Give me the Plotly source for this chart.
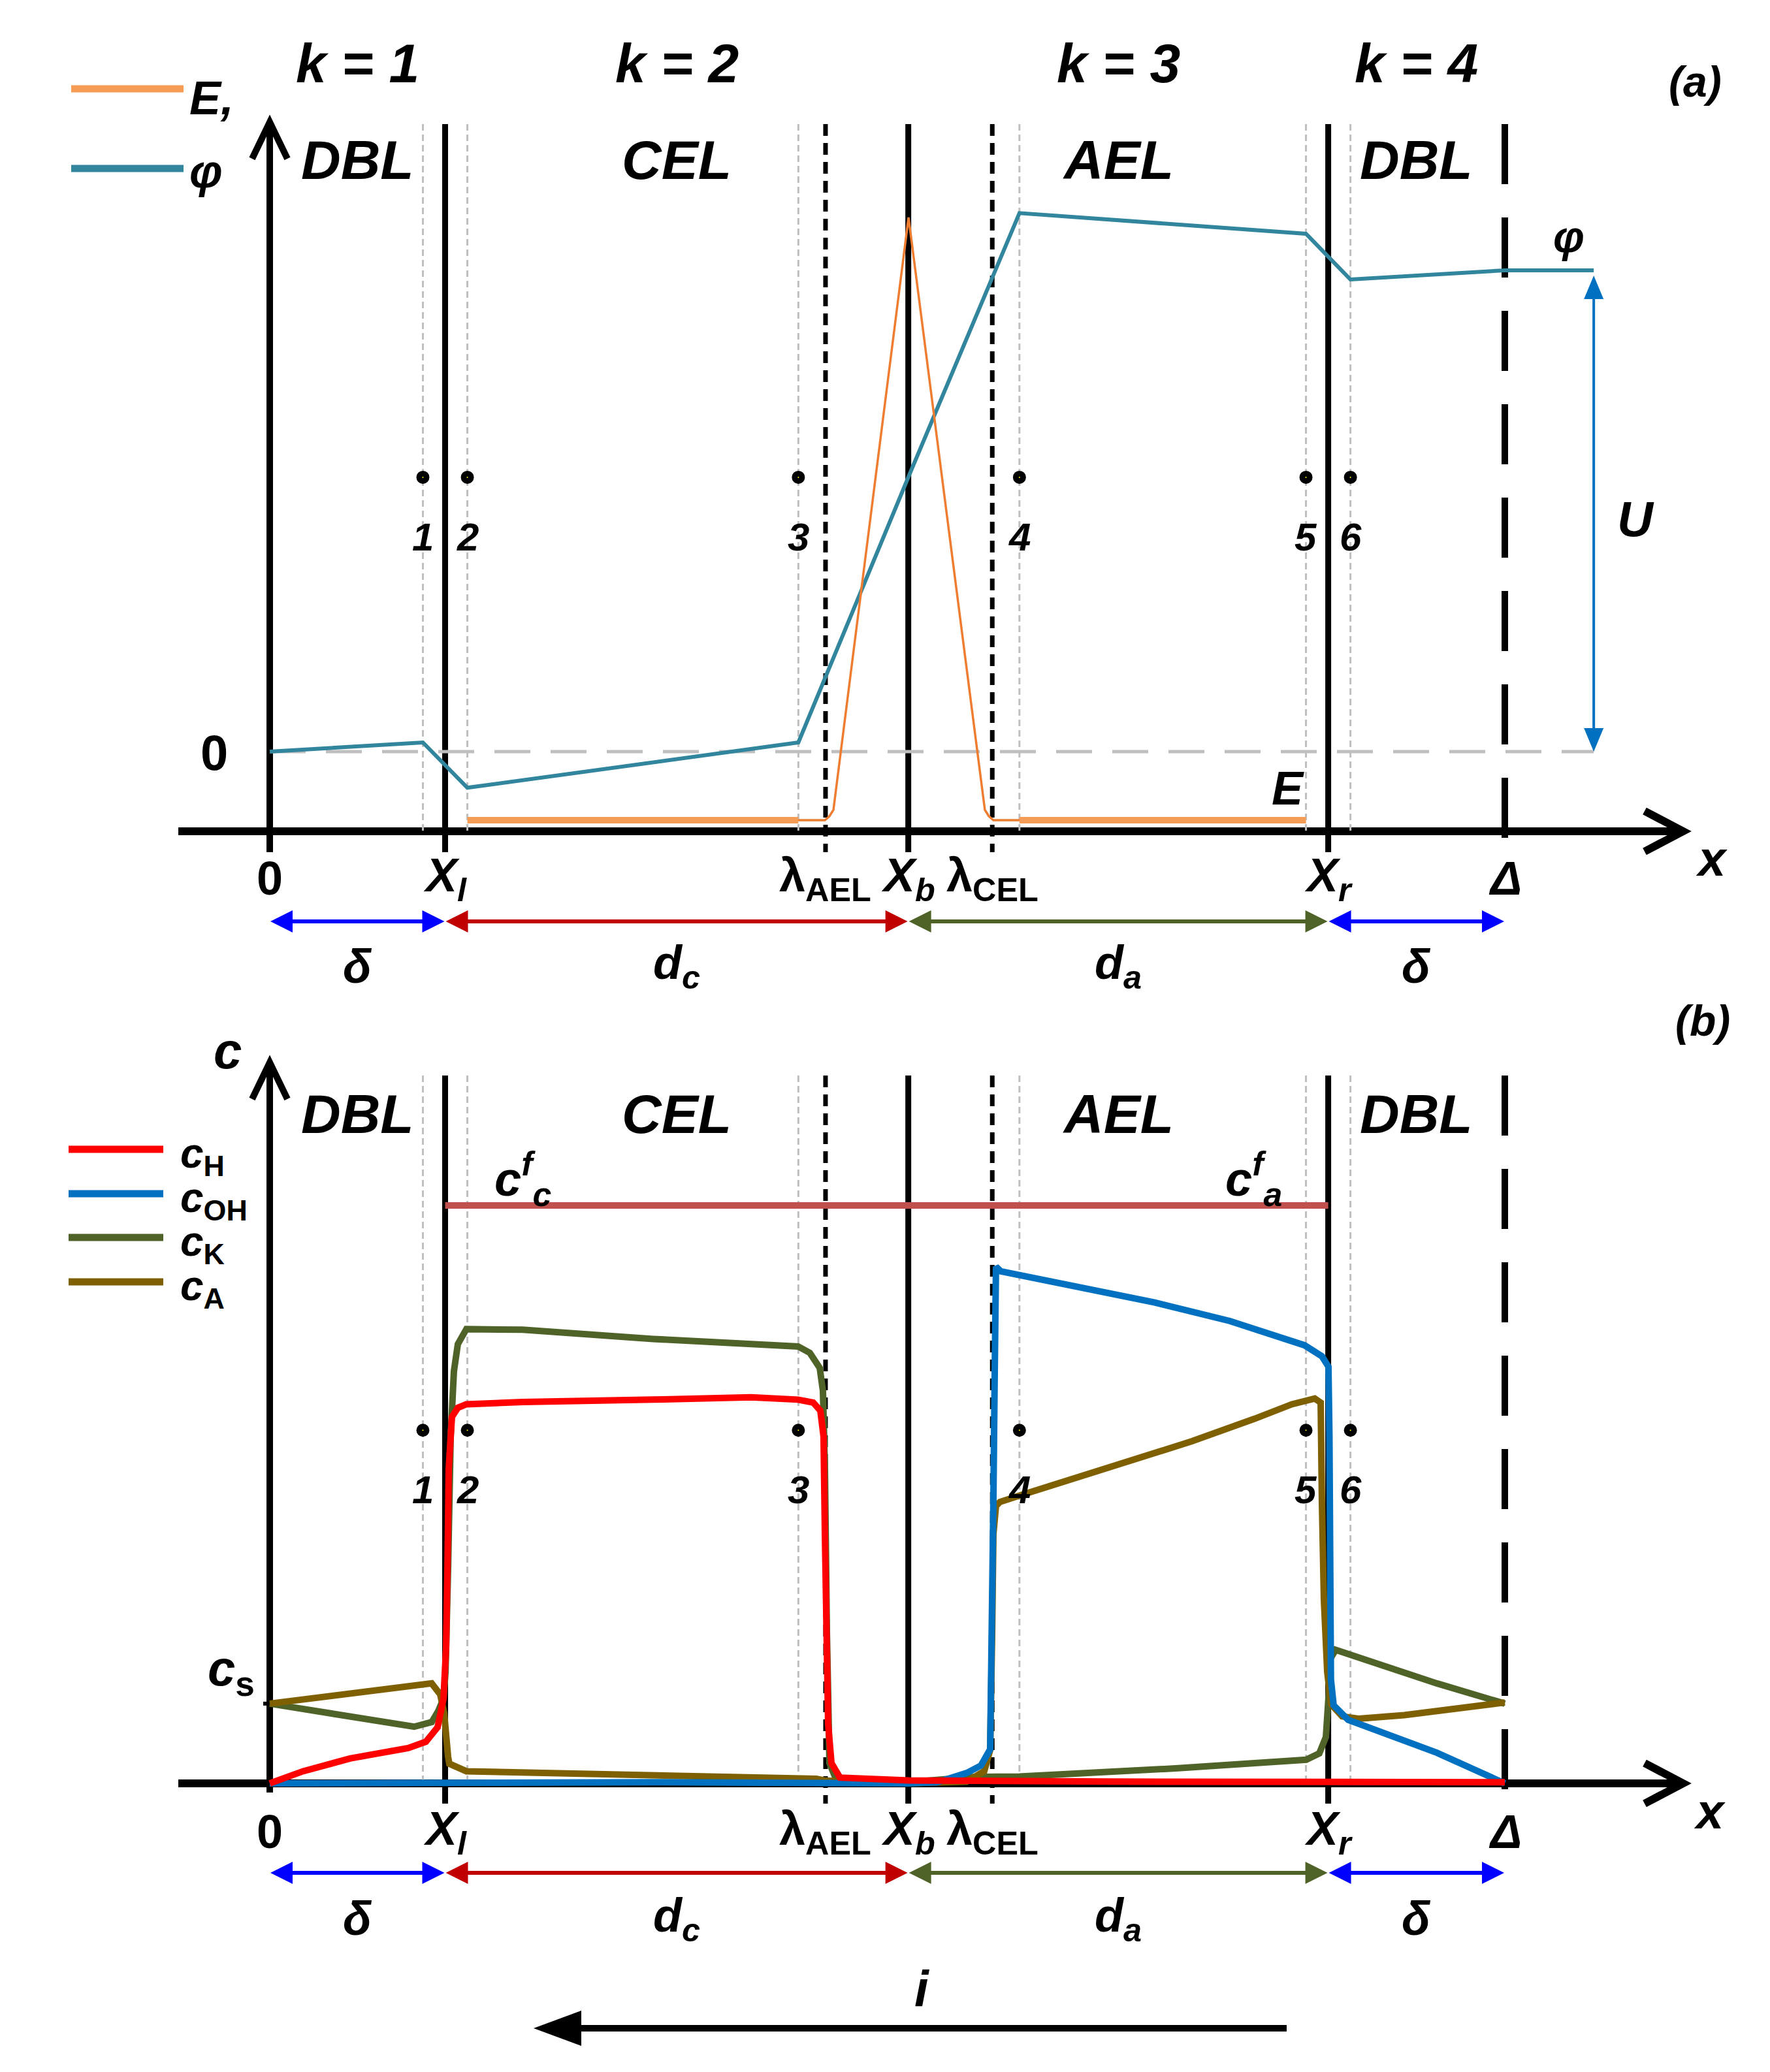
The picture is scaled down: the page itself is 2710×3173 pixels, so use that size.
import plotly.graph_objects as go

# ===================== DATA =====================
# layer boundaries along x (units: Δ = 100)
x_zero, x_l, lam_ael, x_b, lam_cel, x_r, x_delta = 0.0, 14.2, 45.0, 51.7, 58.5, 85.7, 100.0

point_x = [12.4, 16.0, 42.8, 60.7, 83.9, 87.5]
point_labels = ["1", "2", "3", "4", "5", "6"]

tick_x = [x_zero, x_l, lam_ael, x_b, lam_cel, x_r, x_delta]
tick_text = ["0", "<i>X<sub>l</sub></i>", "λ<sub>AEL</sub>", "<i>X<sub>b</sub></i>",
             "λ<sub>CEL</sub>", "<i>X<sub>r</sub></i>", "<i>Δ</i>"]

layer_bounds = [x_zero, x_l, x_b, x_r, x_delta]
layer_names = ["DBL", "CEL", "AEL", "DBL"]
layer_k = ["k = 1", "k = 2", "k = 3", "k = 4"]
dim_text = ["<i>δ</i>", "<i>d<sub>c</sub></i>", "<i>d<sub>a</sub></i>", "<i>δ</i>"]
dim_colors = ["#0000FF", "#C00000", "#4F6228", "#0000FF"]

# ---- panel (a): potential and field ----
phi_x = [0, 12.4, 16.0, 42.8, 51.7, 60.7, 83.9, 87.5, 100, 107.2]
phi_y = [0, 0.019, -0.075, 0.019, 0.57, 1.119, 1.076, 0.981, 1.0, 1.0]
E_flat_x = [16.0, 42.8, None, 60.7, 83.9]
E_flat_y = [-0.1425, -0.1425, None, -0.1425, -0.1425]
E_peak_x = [42.78, 44.95, 45.32, 45.64, 51.72, 57.90, 58.22, 58.59, 60.71]
E_peak_y = [-0.1425, -0.1425, -0.134, -0.121, 1.110, -0.121, -0.134, -0.1425, -0.1425]
U_value = 1.0

# ---- panel (b): concentrations ----
cH_x = [0, 2.70, 6.50, 11.21, 12.64, 13.59, 14.07, 14.28, 14.39, 14.49, 14.75, 15.23, 15.92,
        20.47, 31.04, 38.97, 42.78, 44.00, 44.58, 44.84, 44.95, 45.06, 45.21, 45.48, 46.17,
        51.72, 68.06, 100]
cH_y = [0, 0.021, 0.043, 0.061, 0.072, 0.097, 0.147, 0.235, 0.374, 0.544, 0.634, 0.650, 0.656,
        0.660, 0.664, 0.668, 0.664, 0.659, 0.645, 0.600, 0.431, 0.261, 0.103, 0.035, 0.010,
        0.005, 0.003, 0.002]

cOH_x = [0, 31.04, 51.72, 54.05, 56.43, 57.59, 58.33, 58.49, 58.59, 58.70, 58.80, 59.20, 65.57,
         71.66, 77.74, 81.76, 83.79, 85.19, 85.72, 85.80, 85.86, 85.92, 86.14, 87.31, 94.50, 100]
cOH_y = [0, 0.002, 0.0, 0.002, 0.018, 0.031, 0.059, 0.261, 0.487, 0.713, 0.894, 0.886, 0.858,
         0.832, 0.800, 0.773, 0.758, 0.739, 0.721, 0.600, 0.350, 0.180, 0.135, 0.110, 0.053, 0.0]

cK_x = [0, 11.21, 11.69, 13.11, 13.64, 14.07, 14.23, 14.44, 14.65, 14.91, 15.23, 15.92, 20.47,
        31.04, 42.78, 43.73, 44.53, 44.79, 44.95, 45.11, 45.32, 45.85, 51.72, 56.90, 60.71,
        73.35, 83.92, 84.98, 85.51, 85.72, 85.88, 86.30, 94.50, 100]
cK_y = [0.138, 0.101, 0.098, 0.106, 0.125, 0.147, 0.193, 0.374, 0.600, 0.713, 0.760, 0.786, 0.785,
        0.769, 0.756, 0.745, 0.719, 0.679, 0.544, 0.261, 0.035, 0.007, 0.002, 0.011, 0.012,
        0.026, 0.041, 0.052, 0.080, 0.148, 0.216, 0.231, 0.173, 0.138]

cA_x = [0, 12.37, 13.11, 13.80, 14.12, 14.44, 14.54, 15.92, 25.38, 44.26, 44.95, 46.91, 51.72,
        56.43, 57.85, 58.33, 58.49, 58.59, 58.80, 59.12, 60.71, 67.58, 74.67, 79.75, 82.76,
        84.61, 85.09, 85.19, 85.35, 85.62, 85.93, 86.83, 88.15, 91.86, 96.09, 100]
cA_y = [0.138, 0.173, 0.173, 0.154, 0.122, 0.046, 0.034, 0.021, 0.017, 0.008, 0.005, 0.002, 0.0,
        0.003, 0.021, 0.058, 0.261, 0.431, 0.480, 0.487, 0.498, 0.544, 0.592, 0.631, 0.656,
        0.666, 0.659, 0.487, 0.318, 0.193, 0.137, 0.116, 0.112, 0.118, 0.129, 0.140]

cf_x = [x_l, x_r]
cf_y = [1.0, 1.0]
c_s = 0.138

# ===================== LAYOUT GEOMETRY =====================
W, H, OFF = 2694, 3157, 8
SX, X0PX = 18.91, 413.0
SYA, YA0PX = 737.0, 1151.0
SYB, YB0PX = 885.0, 2731.0

def xd(px): return (px - X0PX) / SX
def xpx(x): return X0PX + x * SX
def yp(py): return 1 - (py - OFF) / H
def ya_px(v): return YA0PX - v * SYA
def yb_px(v): return YB0PX - v * SYB

SANS = "Liberation Sans, Arial, sans-serif"
NARROW = "Liberation Sans Narrow, Liberation Sans, Arial, sans-serif"

C_PHI = "#31859C"
C_E = "#F59D56"
C_E2 = "#EE7D31"
C_H = "#FF0000"
C_OH = "#0070C0"
C_K = "#4F6228"
C_A = "#7F6000"
C_F = "#C0504D"
GRAY = "#BFBFBF"

shapes = []
annotations = []

def seg(x0, y0, x1, y1, color="black", width=9, dash="solid"):
    shapes.append(dict(type="line", xref="x", yref="paper", x0=xd(x0), x1=xd(x1),
                       y0=yp(y0), y1=yp(y1), line=dict(color=color, width=width, dash=dash),
                       layer="below"))

def poly(pts, color, fill=True, width=0):
    path = "M " + " L ".join(f"{xd(px):.4f},{yp(py):.5f}" for px, py in pts) + (" Z" if fill else "")
    shapes.append(dict(type="path", xref="x", yref="paper", path=path,
                       fillcolor=color if fill else "rgba(0,0,0,0)",
                       line=dict(color=color, width=width), layer="below"))

def text(s, px, py, size, family=SANS, weight="bold", style="italic",
         xanchor="center", yanchor="middle", xdata=None):
    annotations.append(dict(text=s, xref="x", yref="paper",
                            x=xd(px) if xdata is None else xdata, y=yp(py),
                            showarrow=False, xanchor=xanchor, yanchor=yanchor,
                            font=dict(family=family, size=size, color="black",
                                      weight=weight, style=style)))

def dim_arrows(py):
    for i in range(4):
        a = xpx(layer_bounds[i]) + 1
        b = xpx(layer_bounds[i + 1]) - 1
        col = dim_colors[i]
        seg(a + 20, py, b - 20, py, col, 6)
        poly([(a, py), (a + 34, py - 17), (a + 34, py + 17)], col)
        poly([(b, py), (b - 34, py - 17), (b - 34, py + 17)], col)

def panel_frame(top, bottom, axis_y, yaxis_tip, yaxis_bottom, x_tip=2577):
    seg(X0PX, yaxis_bottom, X0PX, yaxis_tip + 4, "black", 10)
    poly([(X0PX - 27, yaxis_tip + 56), (X0PX, yaxis_tip), (X0PX + 27, yaxis_tip + 56)],
         "black", fill=False, width=10)
    seg(273, axis_y, x_tip - 4, axis_y, "black", 12)
    poly([(x_tip - 59, axis_y - 31), (x_tip, axis_y), (x_tip - 59, axis_y + 31)],
         "black", fill=False, width=12)
    for x in point_x:
        seg(xpx(x), top, xpx(x), axis_y, GRAY, 3, "10px,6px")
    for x in [x_l, x_b, x_r]:
        seg(xpx(x), top, xpx(x), bottom, "black", 9)
    for x in [lam_ael, lam_cel]:
        seg(xpx(x), top, xpx(x), bottom, "black", 7, "18px,11px")
    seg(xpx(x_delta), top, xpx(x_delta), bottom, "black", 10, "92px,51px")

# ---------- panel (a) frame ----------
panel_frame(190, 1305, 1273, 187, 1305)
seg(X0PX, ya_px(0), xpx(phi_x[-1]), ya_px(0), GRAY, 5, "55px,31px")
ux = xpx(phi_x[-1])
utop, ubot = ya_px(U_value) + 8, ya_px(0)
seg(ux, utop + 30, ux, ubot - 30, C_OH, 4)
poly([(ux, utop), (ux - 15, utop + 36), (ux + 15, utop + 36)], C_OH)
poly([(ux, ubot), (ux - 15, ubot - 36), (ux + 15, ubot - 36)], C_OH)
dim_arrows(1411)
seg(109, 136, 281, 136, C_E, 11)
seg(109, 258, 281, 258, C_PHI, 11)

# ---------- panel (b) frame ----------
panel_frame(1647, 2762, 2731, 1627, 2745)
seg(X0PX - 10, yb_px(c_s), X0PX, yb_px(c_s), "black", 6)
dim_arrows(2868)
for yy, col in zip([1760, 1828, 1895, 1963], [C_H, C_OH, C_K, C_A]):
    seg(105, yy, 250, yy, col, 11)
seg(880, 3106, 1970, 3106, "black", 10)
poly([(817, 3106), (890, 3079), (890, 3133)], "black")

# ===================== TRACES =====================
fig = go.Figure()
dot_marker = dict(size=11, color="#FFFF00", line=dict(color="black", width=9))
# panel (a)
fig.add_trace(go.Scatter(x=phi_x, y=phi_y, mode="lines", line=dict(color=C_PHI, width=6), yaxis="y"))
fig.add_trace(go.Scatter(x=E_peak_x, y=E_peak_y, mode="lines", line=dict(color=C_E2, width=3.5), yaxis="y"))
fig.add_trace(go.Scatter(x=E_flat_x, y=E_flat_y, mode="lines", line=dict(color=C_E, width=10), yaxis="y"))
dot_level_a = 0.57
fig.add_trace(go.Scatter(x=point_x, y=[dot_level_a] * len(point_x), mode="markers",
                         marker=dot_marker, yaxis="y"))
# panel (b)
fig.add_trace(go.Scatter(x=cf_x, y=cf_y, mode="lines", line=dict(color=C_F, width=10), yaxis="y2"))
fig.add_trace(go.Scatter(x=cK_x, y=cK_y, mode="lines", line=dict(color=C_K, width=10), yaxis="y2"))
fig.add_trace(go.Scatter(x=cA_x, y=cA_y, mode="lines", line=dict(color=C_A, width=10), yaxis="y2"))
fig.add_trace(go.Scatter(x=cOH_x, y=cOH_y, mode="lines", line=dict(color=C_OH, width=10), yaxis="y2"))
fig.add_trace(go.Scatter(x=cH_x, y=cH_y, mode="lines", line=dict(color=C_H, width=10), yaxis="y2"))
dot_level_b = 0.611
fig.add_trace(go.Scatter(x=point_x, y=[dot_level_b] * len(point_x), mode="markers",
                         marker=dot_marker, yaxis="y2"))

# ===================== TEXT =====================
mids = [(layer_bounds[i] + layer_bounds[i + 1]) / 2 for i in range(4)]
for m, k, n in zip(mids, layer_k, layer_names):
    text(k, 0, 97, 84, xdata=m)
    text(n, 0, 245, 84, xdata=m)
    text(n, 0, 1706, 84, xdata=m)
for m, d in zip(mids, dim_text):
    text(d, 0, 1480, 72, family=NARROW, xdata=m, style="normal")
    text(d, 0, 2938, 72, family=NARROW, xdata=m, style="normal")
for x, t in zip(tick_x, tick_text):
    text(t, 0, 1345, 72, family=NARROW, style="normal", xdata=x)
    text(t, 0, 2805, 72, family=NARROW, style="normal", xdata=x)
for x, t in zip(point_x, point_labels):
    text(t, 0, 822, 60, family=NARROW, xdata=x)
    text(t, 0, 2281, 60, family=NARROW, xdata=x)

text("(a)", 2595, 125, 66)
text("(b)", 2607, 1563, 66)
text("E,", 288, 150, 72, xanchor="left")
text("φ", 288, 262, 72, xanchor="left")
text("0", 328, 1152, 76, family=NARROW, style="normal")
text("φ", 2402, 362, 68)
text("U", 2504, 795, 76)
text("E", 1972, 1207, 72)
text("x", 2620, 1315, 76, family=NARROW)
text("x", 2617, 2773, 76, family=NARROW)
text("c", 348, 1609, 78, family=NARROW)
text("<i>c</i><sub>s</sub>", 354, 2560, 76, family=NARROW, style="normal")
for yy, lab in zip([1770, 1838, 1905, 1973], ["H", "OH", "K", "A"]):
    text(f"<i>c</i><sub>{lab}</sub>", 274, yy, 64, family=NARROW, style="normal", xanchor="left")
text("<i>c<sup>f</sup><sub>c</sub></i>", 800, 1805, 74, family=NARROW, style="normal")
text("<i>c<sup>f</sup><sub>a</sub></i>", 1919, 1805, 74, family=NARROW, style="normal")
text("i", 1411, 3046, 78, family=NARROW)

fig.update_layout(
    width=W, height=H, margin=dict(l=0, r=0, t=0, b=0, pad=0),
    paper_bgcolor="white", plot_bgcolor="white", showlegend=False,
    xaxis=dict(range=[xd(OFF), xd(OFF + W)], visible=False, fixedrange=True),
    yaxis=dict(range=[(YA0PX - (OFF + H)) / SYA, (YA0PX - OFF) / SYA], visible=False, fixedrange=True),
    yaxis2=dict(range=[(YB0PX - (OFF + H)) / SYB, (YB0PX - OFF) / SYB], visible=False,
                overlaying="y", fixedrange=True),
    shapes=shapes, annotations=annotations,
)
fig.write_html("out.html")
